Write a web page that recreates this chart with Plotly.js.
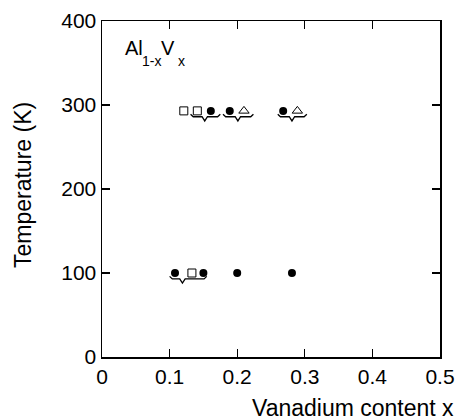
<!DOCTYPE html>
<html>
<head>
<meta charset="utf-8">
<script src="https://cdn.plot.ly/plotly-3.0.1.min.js"></script>
<style>html,body{margin:0;padding:0;background:#fff;}#chart{width:459px;height:420px;}</style>
</head>
<body>
<div id="chart"></div>
<script>
// Room-temperature measurements (~293 K)
const rtT = 293;
const rtSquareX = [0.121, 0.141];
const rtCircleX = [0.161, 0.189, 0.268];
const rtTriangleX = [0.210, 0.289];
// Low-temperature measurements (100 K)
const ltT = 100;
const ltCircleX = [0.108, 0.150, 0.200, 0.281];
const ltSquareX = [0.133];
// Grouping braces under the symbols
const braceLeft = [0.131, 0.179, 0.260, 0.100];
const braceRight = [0.175, 0.224, 0.303, 0.155];
const braceTip = [0.152, 0.201, 0.281, 0.119];
const braceT = [293, 293, 293, 100];
// Axis ticks
const xTicks = [0, 0.1, 0.2, 0.3, 0.4, 0.5];
const xTickText = ['0', '0.1', '0.2', '0.3', '0.4', '0.5'];
const yTicks = [0, 100, 200, 300, 400];
// Texts
const xTitle = 'Vanadium content x';
const yTitle = 'Temperature (K)';

const FONT = 'Liberation Sans, Arial, Helvetica, sans-serif';

function constArr(n, v) { return new Array(n).fill(v); }

// build brace paths from the brace arrays
const bx = [], by = [];
const dx = 0.004;
for (let i = 0; i < braceLeft.length; i++) {
  const T = braceT[i];
  bx.push(braceLeft[i], braceLeft[i] + dx, braceTip[i] - dx, braceTip[i], braceTip[i] + dx, braceRight[i] - dx, braceRight[i], null);
  by.push(T - 4, T - 7, T - 7, T - 12, T - 7, T - 7, T - 4, null);
}

const traces = [
  {x: bx, y: by, mode: 'lines', line: {color: '#000', width: 1.3}, hoverinfo: 'skip', connectgaps: false},
  {x: rtSquareX, y: constArr(rtSquareX.length, rtT), mode: 'markers',
   marker: {symbol: 'square-open', size: 8, color: '#000', line: {width: 1}}},
  {x: rtCircleX, y: constArr(rtCircleX.length, rtT), mode: 'markers',
   marker: {symbol: 'circle', size: 8, color: '#000'}},
  {x: rtTriangleX, y: constArr(rtTriangleX.length, rtT), mode: 'markers',
   marker: {symbol: 'triangle-up-open', size: 9, color: '#000', line: {width: 1}}},
  {x: ltCircleX, y: constArr(ltCircleX.length, ltT), mode: 'markers',
   marker: {symbol: 'circle', size: 8, color: '#000'}},
  {x: ltSquareX, y: constArr(ltSquareX.length, ltT), mode: 'markers',
   marker: {symbol: 'square-open', size: 8, color: '#000', line: {width: 1}}}
];

const axisCommon = {
  showgrid: false, zeroline: false, showline: true, linecolor: '#000', linewidth: 1.5,
  mirror: 'ticks', ticks: 'inside', ticklen: 8, tickwidth: 1.3, tickcolor: '#000',
  tickfont: {family: FONT, size: 21, color: '#000'}
};

function ann(px, py, text, size, extra) {
  return Object.assign({xref: 'paper', yref: 'paper', x: (px - 102) / 338, y: (357 - py) / 336,
    xanchor: 'left', yanchor: 'middle', text: text, showarrow: false,
    font: {family: FONT, size: size, color: '#000'}}, extra || {});
}

const layout = {
  width: 459, height: 420,
  margin: {l: 102, r: 19, t: 21, b: 63},
  paper_bgcolor: '#fff', plot_bgcolor: '#fff',
  showlegend: false,
  font: {family: FONT, color: '#000'},
  xaxis: Object.assign({}, axisCommon, {range: [0, 0.5], tickvals: xTicks, ticktext: xTickText}),
  yaxis: Object.assign({}, axisCommon, {range: [0, 400], tickvals: yTicks}),
  annotations: [
    ann(123, 47.5, 'Al', 20),
    ann(140, 61, '1-x', 14),
    ann(159, 47.5, 'V', 20),
    ann(176, 61, 'x', 14),
    ann(353, 408, xTitle, 23, {xanchor: 'center'}),
    ann(23, 185, yTitle, 23, {xanchor: 'center', textangle: -90})
  ]
};

Plotly.newPlot('chart', traces, layout, {staticPlot: true, displayModeBar: false});
</script>
</body>
</html>
